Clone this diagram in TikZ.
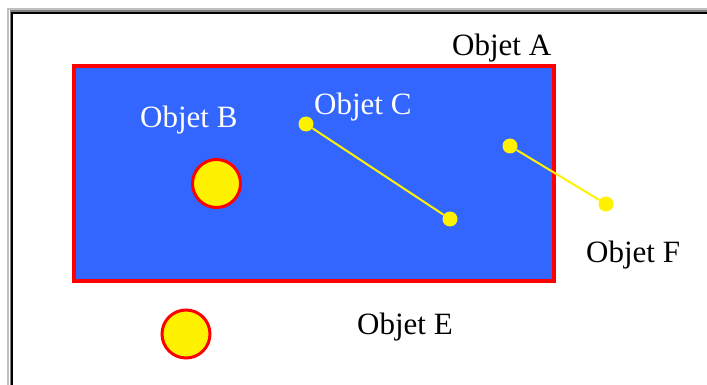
\documentclass[tikz,border=0pt]{standalone}
\usepackage{fontspec}
\setmainfont{Liberation Serif}
\definecolor{bgblue}{HTML}{3366FF}
\definecolor{lgray}{HTML}{C0C0C0}
\definecolor{dgray}{HTML}{808080}
\begin{document}
\begin{tikzpicture}[x=1pt,y=-1pt,
  lbl/.style={anchor=base west,inner sep=0pt,font=\fontsize{31}{33}\selectfont},
  ball/.style={circle,draw=red,fill=yellow,line width=3pt,minimum size=48pt,inner sep=0pt},
  dot/.style={circle,fill=yellow,minimum size=15pt,inner sep=0pt},
  link/.style={draw=yellow,line width=2pt}]
\useasboundingbox (0,0) rectangle (707,385);
\fill[white] (0,0) rectangle (707,385);
% window frame
\draw[lgray,line width=2pt] (8,385) -- (8,9) -- (707,9);
\draw[dgray,line width=1.6pt] (10.5,385) -- (10.5,11.2) -- (707,11.2);
\draw[black,line width=2pt] (12.2,385) -- (12.2,13) -- (707,13);
% object A
\node[draw=red,fill=bgblue,line width=4pt,minimum width=480pt,minimum height=215pt,inner sep=0pt,anchor=north west] (A) at (72,64) {};
\node[lbl] (tA) at (452,56) {Objet A};
\node[lbl,text=white] (tB) at (140,128) {Objet B};
\node[lbl,text=white] (tC) at (314,115) {Objet C};
\node[lbl] (tF) at (586,262) {Objet F};
\node[lbl] (tE) at (357,334) {Objet E};
% balls
\node[ball] (B) at (216.5,183.5) {};
\node[ball] (E) at (186,334) {};
% segments
\node[dot] (c1) at (306,124) {};
\node[dot] (c2) at (450,219) {};
\node[dot] (f1) at (510,146) {};
\node[dot] (f2) at (606,204) {};
\draw[link] (c1) -- (c2);
\draw[link] (f1) -- (f2);
\end{tikzpicture}
\end{document}
